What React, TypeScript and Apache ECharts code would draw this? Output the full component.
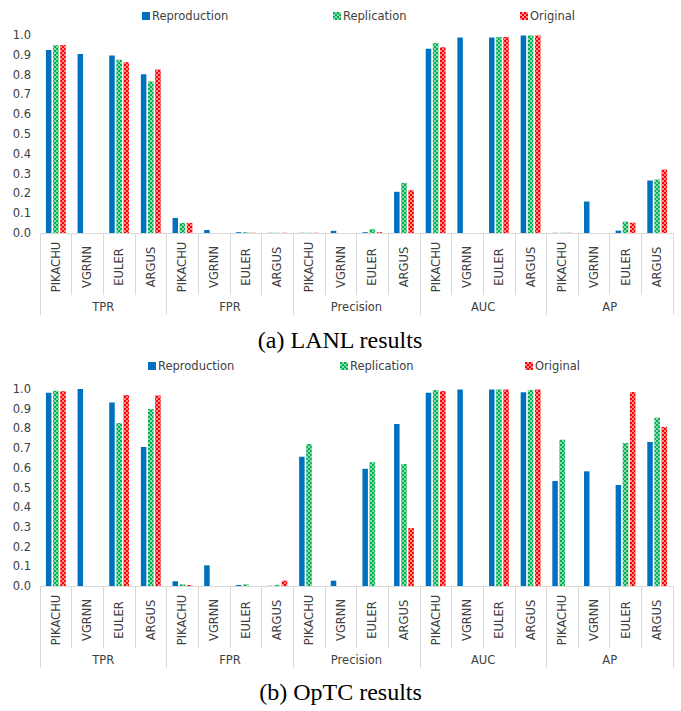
import React, { useEffect, useRef } from "react";
import * as echarts from "echarts";

const groups = ["TPR", "FPR", "Precision", "AUC", "AP"];
const models = ["PIKACHU", "VGRNN", "EULER", "ARGUS"];
const seriesNames = ["Reproduction", "Replication", "Original"];
const yTicks = [0, 0.1, 0.2, 0.3, 0.4, 0.5, 0.6, 0.7, 0.8, 0.9, 1.0];

// LANL (a)
const lanlReproduction = [0.924, 0.904, 0.896, 0.802, 0.076, 0.015, 0.004, 0.001, 0.001, 0.011, 0.004, 0.208, 0.931, 0.988, 0.987, 0.998, 0.001, 0.159, 0.012, 0.265];
const lanlReplication = [0.948, null, 0.875, 0.765, 0.051, null, 0.004, 0.001, 0.001, null, 0.019, 0.253, 0.96, null, 0.99, 0.998, 0.001, null, 0.057, 0.27];
const lanlOriginal = [0.949, null, 0.862, 0.826, 0.051, null, 0.001, 0.001, 0.001, null, 0.004, 0.216, 0.938, null, 0.99, 0.998, 0.001, null, 0.052, 0.32];

// OpTC (b)
const optcReproduction = [0.981, 1.0, 0.932, 0.706, 0.024, 0.105, 0.005, 0.001, 0.656, 0.027, 0.595, 0.822, 0.981, 0.998, 0.997, 0.983, 0.533, 0.582, 0.513, 0.731];
const optcReplication = [0.991, null, 0.827, 0.898, 0.008, null, 0.008, 0.006, 0.721, null, 0.628, 0.619, 0.995, null, 0.997, 0.995, 0.743, null, 0.726, 0.854];
const optcOriginal = [0.989, null, 0.97, 0.967, 0.005, null, null, 0.027, null, null, null, 0.294, 0.99, null, 0.997, 0.998, null, null, 0.985, 0.807];

const captions = ["(a) LANL results", "(b) OpTC results"];

const TEXT = "#404040";
const AXIS = "#d9d9d9";
const FONT = "DejaVu Sans";

export default function App() {
  const ref = useRef<HTMLDivElement>(null);
  useEffect(() => {
    if (!ref.current) return;
    const chart = echarts.init(ref.current, undefined, { renderer: "svg" });

    const cats: string[] = [];
    groups.forEach((g) => models.forEach((m) => cats.push(g + "|" + m)));

    const grids = [
      { left: 40, right: 8, top: 35, height: 198 },
      { left: 40, right: 8, top: 389, height: 197 },
    ];

    const xAxes: any[] = [];
    const yAxes: any[] = [];
    grids.forEach((_, gi) => {
      xAxes.push({
        type: "category",
        gridIndex: gi,
        position: "bottom",
        data: cats,
        axisLine: { show: true, lineStyle: { color: AXIS, width: 1 } },
        axisTick: { show: true, interval: 0, length: 62, lineStyle: { color: AXIS } },
        axisLabel: {
          interval: 0,
          rotate: 90,
          align: "center",
          verticalAlign: "middle",
          margin: 34,
          color: TEXT,
          fontFamily: FONT,
          fontSize: 11.5,
          formatter: (v: string) => v.split("|")[1],
        },
      });
      xAxes.push({
        type: "category",
        gridIndex: gi,
        position: "bottom",
        data: groups,
        axisLine: { show: false },
        axisTick: { show: true, interval: 0, length: 82, lineStyle: { color: AXIS } },
        axisLabel: {
          interval: 0,
          margin: 68,
          color: TEXT,
          fontFamily: FONT,
          fontSize: 11.5,
        },
      });
      yAxes.push({
        type: "value",
        gridIndex: gi,
        min: 0,
        max: 1,
        interval: 0.1,
        axisLine: { show: false },
        axisTick: { show: false },
        splitLine: { show: false },
        axisLabel: {
          color: TEXT,
          fontFamily: FONT,
          fontSize: 11.5,
          margin: 9,
          formatter: (v: number) => (yTicks.indexOf(Math.round(v * 10) / 10) >= 0 ? v.toFixed(1) : ""),
        },
      });
    });

    const decal = {
      symbol: "rect",
      symbolSize: 1,
      color: "rgba(255,255,255,0.55)",
      dashArrayX: [[1.5, 1.5], [0, 1.5, 1.5, 0]],
      dashArrayY: [1.5, 0],
      rotation: 0,
    };
    const styles = [
      { color: "#0070C0" },
      { color: "#00B050", decal },
      { color: "#FF0000", decal },
    ];

    const dataSets = [
      [lanlReproduction, lanlReplication, lanlOriginal],
      [optcReproduction, optcReplication, optcOriginal],
    ];

    const series: any[] = [];
    dataSets.forEach((ds, gi) => {
      ds.forEach((d, si) => {
        series.push({
          type: "bar",
          name: seriesNames[si],
          xAxisIndex: gi * 2,
          yAxisIndex: gi,
          data: d,
          barWidth: 5.5,
          barGap: "30%",
          itemStyle: styles[si],
        });
      });
    });

    const legendLefts = [
      [137, 328, 515],
      [143, 335, 520],
    ];
    const legendTops = [5, 355];
    const legends: any[] = [];
    legendLefts.forEach((ls, gi) => {
      ls.forEach((l, si) => {
        legends.push({
          data: [seriesNames[si]],
          left: l,
          top: legendTops[gi],
          icon: "rect",
          itemWidth: 8,
          itemHeight: 8,
          itemGap: 0,
          selectedMode: false,
          textStyle: { color: TEXT, fontFamily: FONT, fontSize: 11.5, padding: [0, 0, 0, -3] },
        });
      });
    });

    chart.setOption({
      animation: false,
      backgroundColor: "#ffffff",
      grid: grids,
      xAxis: xAxes,
      yAxis: yAxes,
      legend: legends,
      series,
      graphic: [
        {
          type: "text",
          left: "center",
          top: 328,
          style: { text: captions[0], font: "24px 'Liberation Serif'", fill: "#000" },
        },
        {
          type: "text",
          left: "center",
          top: 680,
          style: { text: captions[1], font: "24px 'Liberation Serif'", fill: "#000" },
        },
      ],
    });
    return () => chart.dispose();
  }, []);
  return <div ref={ref} style={{ position: "fixed", left: 0, top: 0, width: 681, height: 711 }} />;
}
